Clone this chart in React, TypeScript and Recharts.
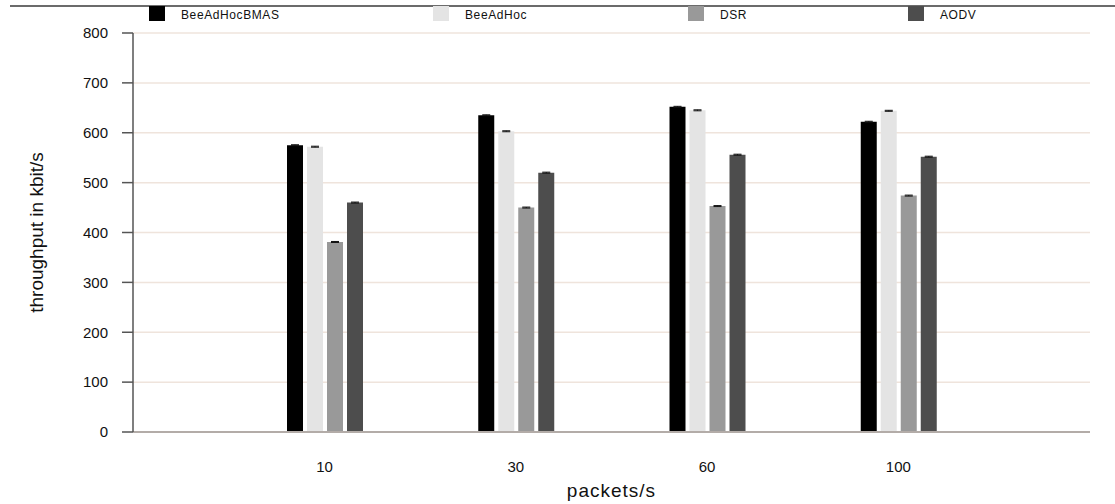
import React from 'react'
import {
  BarChart,
  Bar,
  XAxis,
  YAxis,
  CartesianGrid,
  ErrorBar,
  Legend
} from 'recharts'

// packets per second (x categories)
const categories = ['10', '30', '60', '100']

// throughput in kbit/s
const beeAdHocBMAS = [575, 635, 652, 622]
const beeAdHoc = [572, 603, 645, 644]
const dsr = [381, 450, 453, 474]
const aodv = [460, 520, 556, 552]

// tiny confidence intervals drawn as caps on top of bars
const beeAdHocBMASErr = [1, 1, 1, 1]
const beeAdHocErr = [1, 1, 1, 1]
const dsrErr = [1, 1, 1, 1]
const aodvErr = [1, 1, 1, 1]

const yTicks = [0, 100, 200, 300, 400, 500, 600, 700, 800]

const series = [
  { key: 'bmas', err: 'bmasErr', name: 'BeeAdHocBMAS', color: '#000000' },
  { key: 'bee', err: 'beeErr', name: 'BeeAdHoc', color: '#e4e4e4' },
  { key: 'dsr', err: 'dsrErr', name: 'DSR', color: '#999999' },
  { key: 'aodv', err: 'aodvErr', name: 'AODV', color: '#4d4d4d' }
]

const data = categories.map((c, i) => ({
  packets: c,
  bmas: beeAdHocBMAS[i],
  bmasErr: beeAdHocBMASErr[i],
  bee: beeAdHoc[i],
  beeErr: beeAdHocErr[i],
  dsr: dsr[i],
  dsrErr: dsrErr[i],
  aodv: aodv[i],
  aodvErr: aodvErr[i]
}))

// where each legend entry sits (layout only)
const legendLeft = [149, 433, 688, 908]

const FONT = '"Liberation Sans", Arial, Helvetica, sans-serif'

const LegendContent = () => (
  <div style={{ position: 'relative', width: 1115, height: 24, fontFamily: FONT }}>
    {series.map((s, i) => (
      <React.Fragment key={s.key}>
        <div
          style={{
            position: 'absolute',
            left: legendLeft[i],
            top: 6,
            width: 16,
            height: 15,
            background: s.color
          }}
        />
        <div
          style={{
            position: 'absolute',
            left: legendLeft[i] + 32,
            top: 9,
            fontSize: 12,
            lineHeight: '12px',
            letterSpacing: 0.6,
            color: '#111',
            whiteSpace: 'nowrap'
          }}
        >
          {s.name}
        </div>
      </React.Fragment>
    ))}
  </div>
)

const YTitle = (props: any) => {
  const { viewBox } = props
  const x = viewBox.x + 43
  const y = viewBox.y + viewBox.height / 2
  return (
    <text
      x={x}
      y={y}
      transform={`rotate(-90 ${x} ${y})`}
      textAnchor='middle'
      fontSize={19}
      fontFamily={FONT}
      fill='#111'
    >
      throughput in kbit/s
    </text>
  )
}

const XTitle = (props: any) => {
  const { viewBox } = props
  return (
    <text
      x={viewBox.x + viewBox.width / 2}
      y={viewBox.y + 65}
      textAnchor='middle'
      fontSize={19}
      letterSpacing={1}
      fontFamily={FONT}
      fill='#111'
    >
      packets/s
    </text>
  )
}

export default function App() {
  return (
    <div
      style={{
        position: 'absolute',
        left: 0,
        top: 0,
        width: 1115,
        height: 504,
        background: '#fff',
        fontFamily: FONT
      }}
    >
      <div
        style={{
          position: 'absolute',
          left: 10,
          top: 5,
          width: 1105,
          height: 2,
          background: '#6b6b6b'
        }}
      />
      <BarChart
        width={1115}
        height={504}
        data={data}
        margin={{ top: 33, right: 25, left: 0, bottom: 0 }}
        barSize={16}
        barGap={4}
      >
        <CartesianGrid vertical={false} stroke='#efe4dc' strokeWidth={1.5} />
        <XAxis
          dataKey='packets'
          height={72}
          padding={{ left: 96, right: 96 }}
          tickLine={false}
          tickSize={0}
          tickMargin={29}
          axisLine={{ stroke: '#b3aca8', strokeWidth: 2 }}
          tick={{ fontSize: 15, fill: '#111', fontFamily: FONT }}
          label={XTitle}
        />
        <YAxis
          width={133}
          domain={[0, 800]}
          ticks={yTicks}
          interval={0}
          tickSize={11}
          tickMargin={14}
          axisLine={{ stroke: '#555', strokeWidth: 1.5 }}
          tickLine={{ stroke: '#555', strokeWidth: 1.5 }}
          tick={{ fontSize: 15, fill: '#111', fontFamily: FONT }}
          label={YTitle}
        />
        <Legend
          verticalAlign='middle'
          align='center'
          layout='horizontal'
          wrapperStyle={{ top: 0, left: 0, width: 1115, height: 24 }}
          content={<LegendContent />}
        />
        {series.map((s) => (
          <Bar
            key={s.key}
            dataKey={s.key}
            name={s.name}
            fill={s.color}
            isAnimationActive={false}
          >
            <ErrorBar dataKey={s.err} width={4} stroke='#111' strokeWidth={1} />
          </Bar>
        ))}
      </BarChart>
    </div>
  )
}
